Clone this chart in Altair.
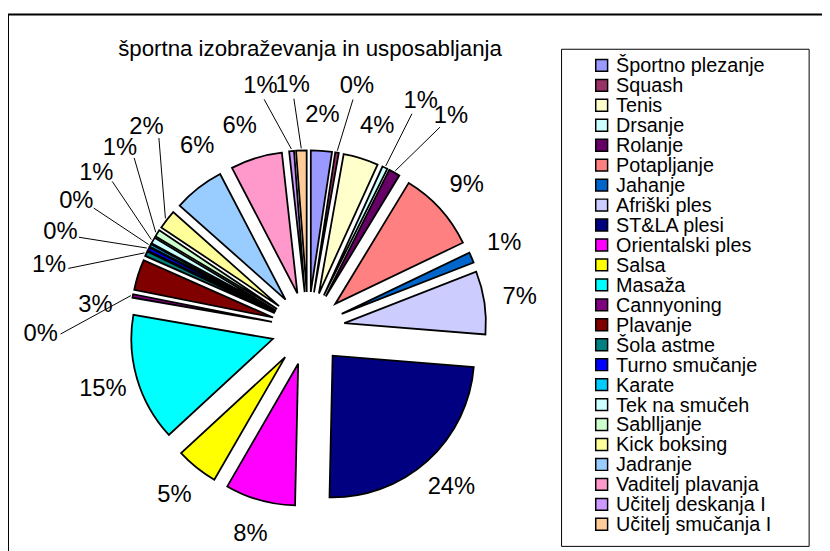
import altair as alt
import pandas as pd
import numpy as np

names = ["Športno plezanje", "Squash", "Tenis", "Drsanje", "Rolanje", "Potapljanje",
         "Jahanje", "Afriški ples", "ST&LA plesi", "Orientalski ples", "Salsa", "Masaža",
         "Cannyoning", "Plavanje", "Šola astme", "Turno smučanje", "Karate",
         "Tek na smučeh", "Sablljanje", "Kick boksing", "Jadranje", "Vaditelj plavanja",
         "Učitelj deskanja I", "Učitelj smučanja I"]
values = [2.4, 0.4, 4.0, 0.6, 1.3, 9.2, 1.2, 7.2, 24.1, 8.0, 4.8, 14.6,
          0.4, 3.5, 0.55, 0.4, 0.3, 0.7, 0.8, 2.2, 5.8, 5.9, 0.55, 1.2]
colors = ["#9999FF", "#993366", "#FFFFCC", "#CCFFFF", "#660066", "#FF8080",
          "#0066CC", "#CCCCFF", "#000080", "#FF00FF", "#FFFF00", "#00FFFF",
          "#800080", "#800000", "#008080", "#0000FF", "#00CCFF", "#CCFFFF",
          "#CCFFCC", "#FFFF99", "#99CCFF", "#FF99CC", "#CC99FF", "#FFCC99"]
title_text = "športna izobraževanja in usposabljanja"

# layout constants (pixels in the plot area)
CX, CY = 303, 321      # pie centre
R = 143                # slice radius
EXPLODE = 37           # explosion distance
SEP = 7.5              # minimum angular spacing of labels (deg)

# spread crowded labels apart (label layout only, circular)
v = np.array(values, dtype=float)
tot = v.sum()
mid = (np.cumsum(v) - v / 2) / tot * 360
n = len(mid)
la = mid.copy()
for _ in range(2000):
    moved = False
    for i in range(n):
        j = (i + 1) % n
        g = (la[j] - la[i]) if j > i else (la[j] + 360 - la[i])
        if g < SEP - 1e-6:
            s = (SEP - g) / 2
            la[i] -= s
            la[j] += s
            moved = True
    if not moved:
        break
crowded = []
for i in range(n):
    prev_gap = (mid[i] - mid[i - 1]) % 360
    next_gap = (mid[(i + 1) % n] - mid[i]) % 360
    crowded.append(1 if (min(prev_gap, next_gap) < SEP and v[i] / tot < 0.023) else 0)

df = pd.DataFrame({"name": names, "value": values, "idx": list(range(n)),
                   "la": la, "crowded": crowded})

base = alt.Chart(df).transform_window(
    cum="sum(value)", sort=[alt.SortField("idx")], frame=[None, 0]
).transform_joinaggregate(
    total="sum(value)"
).transform_calculate(
    a0="(datum.cum - datum.value) / datum.total * 2 * PI",
    a1="datum.cum / datum.total * 2 * PI",
    pct="datum.value / datum.total",
    lar="datum.la * PI / 180",
).transform_calculate(
    mid="(datum.a0 + datum.a1) / 2",
    lr="datum.crowded ? 245 + 25 * abs(sin(datum.lar)) : 216",
).transform_calculate(
    cx=f"{CX} + {EXPLODE} * sin(datum.mid)",
    cy=f"{CY} - {EXPLODE} * cos(datum.mid)",
    lx=f"{CX} + datum.lr * sin(datum.lar)",
    ly=f"{CY} - datum.lr * cos(datum.lar)",
    kx=f"{CX} + (datum.lr - 20) * sin(datum.lar)",
    ky=f"{CY} - (datum.lr - 14) * cos(datum.lar)",
).transform_calculate(
    ex=f"datum.cx + {R + 2} * sin(datum.mid)",
    ey=f"datum.cy - {R + 2} * cos(datum.mid)",
)

dummy = pd.DataFrame({"a": [0]})
color_scale = alt.Scale(domain=names, range=colors)
row_scale = alt.Scale(domain=names, range=[55.3, 518.7], padding=0)

outer = alt.Chart(dummy).mark_rect(fill="white", stroke="black", strokeWidth=2).encode(
    x=alt.value(0), x2=alt.value(900), y=alt.value(4), y2=alt.value(700))

legend_box = alt.Chart(dummy).mark_rect(fill="white", stroke="black", strokeWidth=1).encode(
    x=alt.value(559), x2=alt.value(809), y=alt.value(39), y2=alt.value(541))

arcs = base.mark_arc(radius=R, stroke="black", strokeWidth=1.8).encode(
    x=alt.X("cx:Q", scale=None),
    y=alt.Y("cy:Q", scale=None),
    theta=alt.Theta("a0:Q", scale=None, stack=None),
    theta2="a1:Q",
    color=alt.Color("name:N", scale=color_scale, legend=None),
    order=alt.Order("idx:Q"),
)

leaders = base.transform_filter("datum.crowded == 1").mark_rule(
    color="black", strokeWidth=1).encode(
    x=alt.X("ex:Q", scale=None), y=alt.Y("ey:Q", scale=None),
    x2="kx:Q", y2="ky:Q")

labels = base.mark_text(fontSize=24, font="Liberation Sans", color="black",
                        align="center", baseline="middle").encode(
    x=alt.X("lx:Q", scale=None), y=alt.Y("ly:Q", scale=None),
    text=alt.Text("pct:Q", format=".0%"))

title = alt.Chart(dummy).mark_text(fontSize=22.5, font="Liberation Sans", color="black",
                                   align="center", baseline="middle").encode(
    x=alt.value(305), y=alt.value(39), text=alt.value(title_text))

legend_sq = alt.Chart(df).mark_square(size=144, stroke="black", strokeWidth=1.5,
                                      opacity=1).encode(
    x=alt.value(599.5),
    y=alt.Y("name:N", scale=row_scale, axis=None),
    color=alt.Color("name:N", scale=color_scale, legend=None),
)

legend_tx = alt.Chart(df).mark_text(fontSize=20, font="Liberation Sans", color="black",
                                    align="left", baseline="middle", dy=1).encode(
    x=alt.value(614),
    y=alt.Y("name:N", scale=row_scale, axis=None),
    text="name:N",
)

pie = alt.layer(outer, legend_box, arcs, leaders, labels, title)
legend = alt.layer(legend_sq, legend_tx)

chart = alt.layer(pie, legend).resolve_scale(y="independent").properties(
    width=822, height=543, autosize="none", padding=0
).configure_view(stroke=None)

chart.save("out.html", embed_options={"renderer": "svg", "actions": False})
